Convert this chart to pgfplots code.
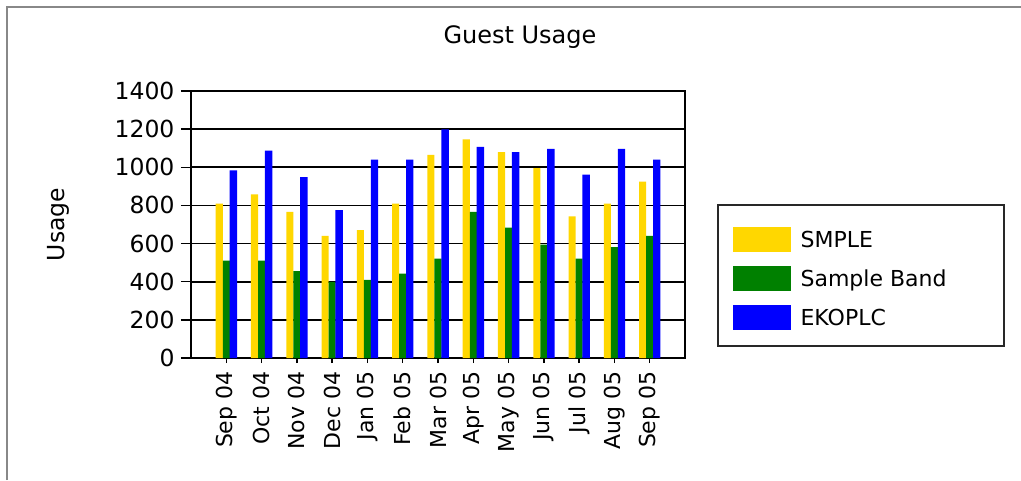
\documentclass[border=0pt]{standalone}
\usepackage{fontspec}
\setmainfont{DejaVu Sans}
\usepackage{pgfplots}
\pgfplotsset{compat=1.18}
\definecolor{cyel}{RGB}{255,215,0}
\definecolor{cgrn}{RGB}{0,128,0}
\definecolor{cblu}{RGB}{0,0,255}
\definecolor{frame}{RGB}{136,136,136}
\definecolor{lbox}{RGB}{40,40,40}
\newcommand{\bigf}{\fontsize{22}{26}\selectfont}
\begin{document}
\begin{tikzpicture}[x=1pt,y=1pt]
\useasboundingbox (0,0) rectangle (1021,480);
\fill[white] (0,0) rectangle (1021,480);
\draw[color=frame, line width=1.7pt] (6.8,0) -- (6.8,473) -- (1021,473);
\begin{axis}[
  at={(191pt,122pt)}, anchor=south west,
  scale only axis, width=494pt, height=267pt,
  xmin=-1, xmax=13, ymin=0, ymax=1400,
  xtick={0,...,12},
  xticklabels={Sep 04,Oct 04,Nov 04,Dec 04,Jan 05,Feb 05,Mar 05,Apr 05,May 05,Jun 05,Jul 05,Aug 05,Sep 05},
  ytick={0,200,...,1400},
  xtick pos=bottom, ytick pos=left,
  ymajorgrids, grid style={black, line width=1.6pt},
  axis line style={line width=1.6pt, black},
  tick align=outside, major tick length=10pt,
  x tick style={/pgfplots/major tick length=5pt},
  tick style={line width=1.5pt, black},
  ticklabel style={font=\bigf},
  yticklabel style={font=\fontsize{23.5}{27}\selectfont, xshift=-3pt},
  /pgf/number format/assume math mode=true,
  /pgf/number format/1000 sep={},
  xticklabel style={rotate=90, anchor=east},
  ylabel={Usage},
  ylabel style={at={(axis description cs:-0.268,0.5)}, anchor=center, font=\fontsize{23.5}{27}\selectfont},
  title={Guest Usage},
  title style={at={(axis description cs:0.666,1.178)}, anchor=center, font=\fontsize{24}{28}\selectfont},
  legend style={at={(axis description cs:1.0648,0.309)}, anchor=west,
    draw=lbox, line width=1.7pt, inner xsep=14.7pt, inner ysep=13.3pt,
    row sep=2.5pt, column sep=10pt, font=\bigf,
    nodes={inner sep=0pt, text height=20pt, text depth=7pt}},
  legend cell align=left,
]
\addplot[ybar, bar width=0.2, bar shift=-0.2, fill=cyel, draw=none,
  legend image code/.code={\fill[cyel] (0pt,-11.1pt) rectangle (58pt,13.9pt); \path (0pt,22.9pt);}]
  coordinates {(0,810) (1,858) (2,766) (3,640) (4,671) (5,810) (6,1065) (7,1147) (8,1079) (9,996) (10,743) (11,810) (12,925)};
\addlegendentry{\makebox[189pt][l]{SMPLE}}
\addplot[ybar, bar width=0.2, bar shift=0, fill=cgrn, draw=none,
  legend image code/.code={\fill[cgrn] (0pt,-11.1pt) rectangle (58pt,13.9pt); \path (0pt,22.9pt);}]
  coordinates {(0,511) (1,511) (2,455) (3,399) (4,409) (5,442) (6,521) (7,766) (8,684) (9,595) (10,521) (11,582) (12,640)};
\addlegendentry{\makebox[189pt][l]{Sample Band}}
\addplot[ybar, bar width=0.21, bar shift=0.2, fill=cblu, draw=none,
  legend image code/.code={\fill[cblu] (0pt,-11.1pt) rectangle (58pt,13.9pt); \path (0pt,22.9pt);}]
  coordinates {(0,984) (1,1088) (2,949) (3,776) (4,1040) (5,1040) (6,1199) (7,1107) (8,1079) (9,1096) (10,962) (11,1096) (12,1040)};
\addlegendentry{\makebox[189pt][l]{EKOPLC}}
\end{axis}
\end{tikzpicture}
\end{document}
